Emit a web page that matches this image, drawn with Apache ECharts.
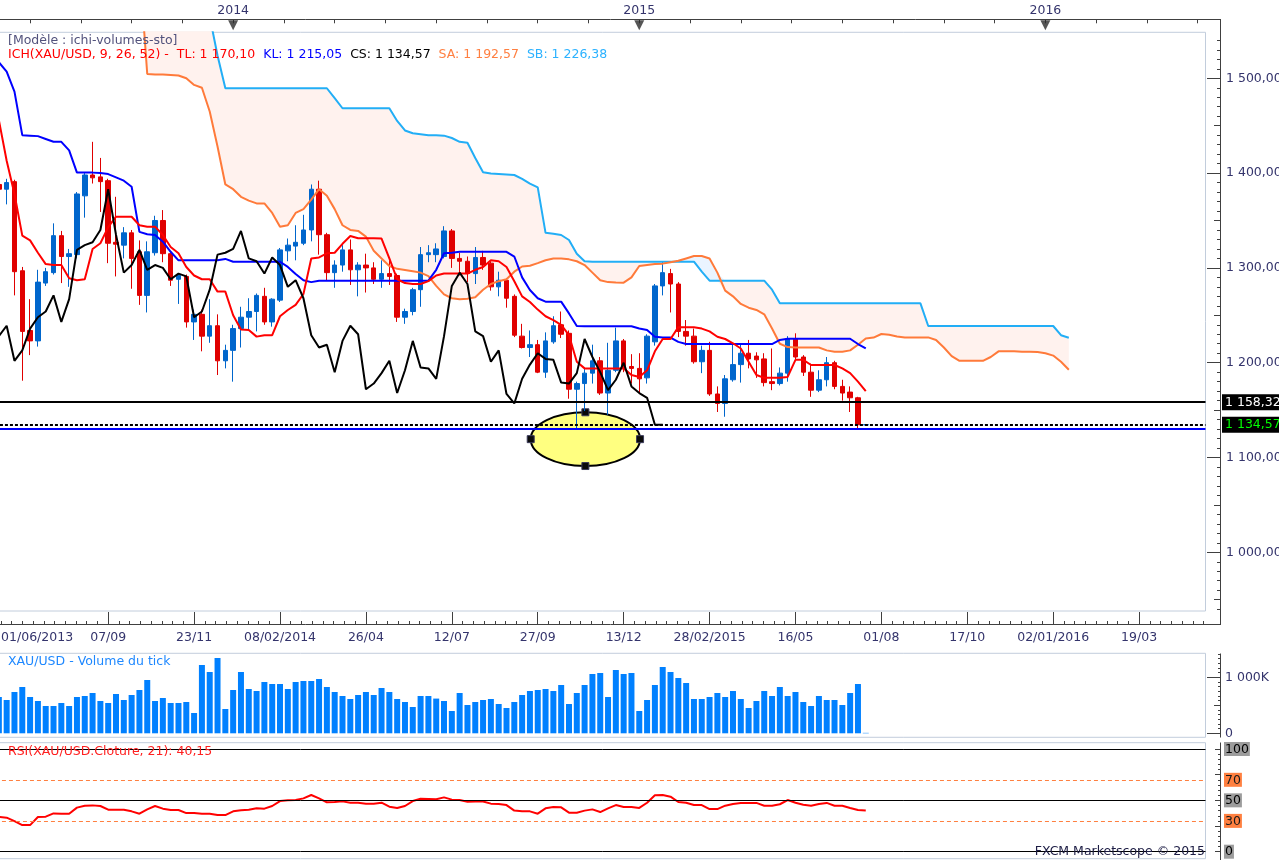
<!DOCTYPE html>
<html>
<head>
<meta charset="utf-8">
<title>XAU/USD Ichimoku</title>
<script src="https://cdn.jsdelivr.net/npm/echarts@6.0.0/dist/echarts.min.js"></script>
<style>
html,body{margin:0;padding:0;background:#ffffff;}
#chart{width:1279px;height:860px;}
</style>
</head>
<body>
<div id="chart"></div>
<script>
// ================= DATA =================
const categories = [
'01/06/2013','08/06/2013','15/06/2013','22/06/2013','29/06/2013','06/07/2013','13/07/2013','20/07/2013','27/07/2013','03/08/2013',
'10/08/2013','17/08/2013','24/08/2013','31/08/2013','07/09/2013','14/09/2013','21/09/2013','28/09/2013','05/10/2013','12/10/2013',
'19/10/2013','26/10/2013','02/11/2013','09/11/2013','16/11/2013','23/11/2013','30/11/2013','07/12/2013','14/12/2013','21/12/2013',
'28/12/2013','04/01/2014','11/01/2014','18/01/2014','25/01/2014','01/02/2014','08/02/2014','15/02/2014','22/02/2014','01/03/2014',
'08/03/2014','15/03/2014','22/03/2014','29/03/2014','05/04/2014','12/04/2014','19/04/2014','26/04/2014','03/05/2014','10/05/2014',
'17/05/2014','24/05/2014','31/05/2014','07/06/2014','14/06/2014','21/06/2014','28/06/2014','05/07/2014','12/07/2014','19/07/2014',
'26/07/2014','02/08/2014','09/08/2014','16/08/2014','23/08/2014','30/08/2014','06/09/2014','13/09/2014','20/09/2014','27/09/2014',
'04/10/2014','11/10/2014','18/10/2014','25/10/2014','01/11/2014','08/11/2014','15/11/2014','22/11/2014','29/11/2014','06/12/2014',
'13/12/2014','20/12/2014','27/12/2014','03/01/2015','10/01/2015','17/01/2015','24/01/2015','31/01/2015','07/02/2015','14/02/2015',
'21/02/2015','28/02/2015','07/03/2015','14/03/2015','21/03/2015','28/03/2015','04/04/2015','11/04/2015','18/04/2015','25/04/2015',
'02/05/2015','09/05/2015','16/05/2015','23/05/2015','30/05/2015','06/06/2015','13/06/2015','20/06/2015','27/06/2015','04/07/2015',
'11/07/2015','18/07/2015','25/07/2015','01/08/2015','08/08/2015','15/08/2015','22/08/2015','29/08/2015','05/09/2015','12/09/2015',
'19/09/2015','26/09/2015','03/10/2015','10/10/2015','17/10/2015','24/10/2015','31/10/2015','07/11/2015','14/11/2015','21/11/2015',
'28/11/2015','05/12/2015','12/12/2015','19/12/2015','26/12/2015','02/01/2016','09/01/2016','16/01/2016','23/01/2016','30/01/2016',
'06/02/2016','13/02/2016','20/02/2016','27/02/2016','05/03/2016','12/03/2016','19/03/2016','26/03/2016','02/04/2016','09/04/2016',
'16/04/2016','23/04/2016','30/04/2016','07/05/2016','14/05/2016'
];

const open = [
1388,1383,1391,1297,1234,1223,1284,1295,1334,1312,
1314,1376,1398,1396,1392,1327,1324,1337,1317,1271,
1316,1350,1315,1288,1291,1243,1251,1228,1239,1202,
1213,1236,1248,1254,1270,1243,1266,1318,1323,1326,
1340,1383,1335,1295,1303,1319,1298,1303,1300,1288,
1294,1292,1248,1254,1277,1314,1314,1312,1339,1310,
1307,1294,1311,1305,1280,1287,1270,1228,1216,1219,
1190,1222,1240,1231,1172,1178,1189,1202,1168,1192,
1223,1196,1194,1184,1222,1281,1294,1283,1233,1228,
1201,1213,1167,1157,1182,1198,1210,1207,1204,1180,
1178,1189,1225,1206,1190,1171,1182,1200,1175,1169,
1163,1134.4];
const close = [
1383,1390,1296,1233,1223,1285,1296,1334,1312,1315,
1378,1398,1395,1391,1326,1325,1337,1310,1271,1317,
1350,1315,1287,1292,1243,1251,1228,1239,1202,1213,
1236,1248,1254,1271,1243,1267,1319,1324,1327,1340,
1383,1335,1295,1303,1319,1298,1303,1300,1288,1294,
1291,1248,1254,1277,1314,1316,1320,1339,1310,1307,
1294,1311,1303,1280,1287,1268,1229,1216,1219,1190,
1223,1239,1230,1172,1178,1189,1202,1168,1192,1223,
1195,1194,1183,1228,1281,1295,1283,1233,1228,1201,
1213,1167,1157,1183,1198,1210,1204,1203,1179,1178,
1189,1225,1206,1190,1171,1182,1200,1175,1168,1163,
1134.57,1134.57];
const low = [
1378,1367,1271,1181,1208,1217,1281,1293,1284,1280,
1310,1353,1389,1359,1305,1291,1310,1278,1261,1253,
1313,1306,1281,1262,1237,1224,1212,1221,1187,1194,
1180,1216,1235,1233,1240,1238,1264,1307,1308,1324,
1328,1314,1287,1279,1296,1282,1270,1274,1283,1279,
1282,1243,1241,1250,1259,1306,1306,1310,1300,1292,
1285,1283,1298,1276,1270,1258,1227,1215,1206,1189,
1184,1220,1226,1162,1131,1149,1178,1166,1145,1190,
1190,1178,1168,1178,1218,1271,1253,1227,1218,1199,
1189,1165,1148,1143,1180,1179,1194,1184,1175,1171,
1176,1180,1203,1186,1164,1169,1175,1172,1160,1148,
1131,1134];
const high = [
1392,1394,1393,1301,1267,1298,1300,1347,1339,1320,
1380,1400,1433,1416,1394,1375,1343,1340,1329,1328,
1355,1361,1318,1294,1293,1256,1256,1267,1251,1219,
1240,1259,1268,1273,1279,1268,1321,1331,1345,1356,
1388,1392,1337,1308,1324,1330,1306,1315,1306,1308,
1311,1294,1257,1279,1322,1324,1326,1344,1341,1316,
1312,1322,1318,1307,1296,1289,1272,1241,1234,1224,
1232,1249,1254,1234,1180,1194,1219,1206,1221,1237,
1225,1209,1210,1230,1283,1307,1299,1285,1245,1236,
1218,1222,1175,1187,1219,1219,1224,1211,1210,1215,
1195,1228,1231,1208,1199,1192,1206,1202,1182,1175,
1164,1135];

// Ichimoku lines
const tenkan = [
1456,1413,1378,1334,1329,1316,1304,1303,1303,1289,
1287,1288,1320,1326,1343,1354,1354,1354,1345,1343.5,
1343.5,1334.7,1322,1315.4,1301,1292,1288,1288,1275,1275,
1250,1235,1234.5,1227.5,1229,1229,1249,1255.6,1261,1272.5,
1310,1311,1315.4,1316,1325.4,1333.7,1331.3,1331.3,1331.3,1331,
1310,1288,1284,1283,1283,1286,1292,1294,1294,1294,
1294,1298,1301,1308,1307,1301,1286,1270,1264,1256,
1249,1245,1240,1229,1201,1194,1194,1194,1194,1194,
1194,1187,1185,1192,1212,1225,1225,1237.5,1237.5,1237.5,
1236,1233,1227.4,1225,1220.5,1215,1201,1187,1184,1184,
1184,1185,1203,1203,1197.6,1197.6,1197.6,1197.6,1194,1189,
1180,1170.10];
const kijun = [
1517,1507,1486,1440,1439.5,1439,1436,1433,1433,1424,
1400.5,1400.5,1400.5,1400,1399,1395.5,1392,1385.6,1338,1335.5,
1334.7,1327.6,1317,1308,1308,1308,1308,1308,1308,1309.5,
1306.5,1306.5,1306.5,1306.5,1306.5,1306.5,1306.5,1301,1293.6,1287,
1285,1286.5,1286.5,1286.5,1286.5,1286.5,1286.5,1286.5,1286.5,1286.5,
1286.5,1286.5,1286.5,1286.5,1286.5,1286.5,1298,1315.4,1316,1317,
1317,1317,1317,1317,1317,1317,1312,1290,1276.7,1268,
1264.4,1264.4,1264.4,1252,1238.7,1238.5,1238.5,1238.5,1238.5,1238.5,
1238.5,1238.5,1236,1234.5,1227.4,1226.7,1226.5,1222,1219.7,1219.7,
1219.7,1219.7,1219.7,1219.7,1219.7,1219.7,1219.7,1219.7,1219.7,1219.7,
1224,1225.3,1225.3,1225.3,1225.3,1225.3,1225.3,1225.3,1225.3,1225.3,
1219.7,1215.05];
// Senkou spans, first value sits at category index 18 (projected 26 weeks ahead)
const senkouStart = 18;
const senkouA = [
1620,1504.5,1504,1504,1503.5,1503,1500,1493,1490,1465,
1428,1388,1383,1375,1371,1368,1368,1358,1343.5,1345,
1358,1362,1372,1383,1376,1362,1345,1340,1339,1333,
1318,1310,1302,1299,1297.8,1296.5,1295,1291.4,1281,1272,
1268,1267,1267.5,1269,1277,1283,1286,1288,1296,1301.5,
1302.3,1305,1308,1310,1310,1309,1307,1303,1295,1287,
1285,1284.5,1284.4,1290,1302,1303,1304,1304.5,1306,1307.5,
1310,1312.5,1312.5,1310,1295,1276,1270,1262,1258,1255.6,
1251,1236,1220,1216.5,1216,1216,1216,1216,1213,1211.6,
1211.6,1213,1219,1225.5,1226.5,1230.3,1229.5,1227.7,1226.7,1226.7,
1226.7,1226.7,1224,1216,1207,1202,1202,1202,1202,1206,
1212,1212,1212,1211.5,1211.5,1211.3,1210,1207.5,1201,1192.57];
const senkouB = [
1650,1650,1650,1650,1650,1650,1650,1650,1650,1565,
1524,1489.5,1489.5,1489.5,1489.5,1489.5,1489.5,1489.5,1489.5,1489.5,
1489.5,1489.5,1489.5,1489.5,1489.5,1479,1468.4,1468.4,1468.4,1468.4,
1468.4,1468.4,1468.4,1455,1445,1442,1441,1440,1440,1439.5,
1437,1433,1432,1416,1401,1399.5,1399,1398.5,1398,1394,
1389,1385,1337,1336,1334.7,1329.4,1315,1307,1306.5,1306.5,
1306.5,1306.5,1306.5,1306.5,1306.5,1306.5,1306.5,1306.5,1306.5,1306.5,
1306.5,1306.5,1296,1286.5,1286.5,1286.5,1286.5,1286.5,1286.5,1286.5,
1286.5,1277,1262.6,1262.6,1262.6,1262.6,1262.6,1262.6,1262.6,1262.6,
1262.6,1262.6,1262.6,1262.6,1262.6,1262.6,1262.6,1262.6,1262.6,1262.6,
1262.6,1238.7,1238.7,1238.7,1238.7,1238.7,1238.7,1238.7,1238.7,1238.7,
1238.7,1238.7,1238.7,1238.7,1238.7,1238.7,1238.7,1238.7,1229,1226.38];
const chikouShift = 26;

// Tick volume (thousands)
const volume = [
648,595,738,827,648,577,488,488,541,488,
648,666,720,577,541,702,595,684,773,952,
577,630,541,541,559,363,1220,1095,1345,434,
773,1095,791,755,916,880,880,791,916,934,
934,970,827,738,666,613,684,738,684,809,
738,613,559,470,666,666,620,577,398,720,
505,559,595,613,523,452,559,684,755,773,
791,755,863,523,720,863,1059,1077,648,1130,
1059,1077,398,595,863,1184,1095,988,898,613,
613,648,720,648,755,613,452,577,755,666,
827,666,738,559,488,666,595,595,505,720,
880,8];

// RSI(21)
const rsi = [
33.8,33.1,29.8,25.9,25.9,33.8,34.1,37.3,37.0,37.0,
42.9,44.8,45.1,44.5,40.9,40.9,40.9,39.3,37.0,41.2,
44.5,41.9,40.6,40.6,37.6,37.6,37.0,37.0,35.7,35.7,
39.3,40.3,40.9,42.2,41.9,44.5,49.3,50.0,50.3,51.9,
55.2,51.9,48.1,48.4,49.0,47.7,47.7,46.8,46.8,47.7,
43.8,42.5,44.5,49.3,51.6,51.3,51.0,52.9,50.7,50.3,
48.7,48.9,48.9,46.8,46.5,45.4,40.0,39.3,39.3,37.0,
42.2,43.5,43.2,38.0,38.0,40.0,41.2,38.6,42.2,45.4,
43.5,43.5,42.6,47.7,54.9,55.2,53.6,48.4,47.7,45.4,
45.4,41.5,41.5,44.8,46.5,47.5,47.5,47.5,44.8,44.8,
46.2,50.3,47.7,45.7,44.8,46.5,47.5,44.8,44.8,42.6,
40.6,40.15];
const rsiLevels = [100, 70, 50, 30, 0];

// Horizontal lines
const hLineBlack = 1158.32;
const hLineBlue = 1130.40;

// Ellipse annotation (category index / price)
const ellipseBox = [68.1, 82.1, 1147.7, 1091.0];

// Tick labels
const dateTickIdx = [0,14,25,36,47,58,69,80,91,102,113,124,135,146];
const dateTickText = ['01/06/2013','07/09','23/11','08/02/2014','26/04','12/07','27/09','13/12','28/02/2015','16/05','01/08','17/10','02/01/2016','19/03'];
const yearIdx = [30,82,134];
const yearText = ['2014','2015','2016'];
const priceTicks = [1000,1100,1200,1300,1400,1500];
const volTicks = [0,1000];
const rsiTicks = [0,30,50,70,100];

// ================= LAYOUT HELPERS =================
const FONT = 'DejaVu Sans';
const FS = 12.5;
const NAVY = '#34346C';
const N = categories.length;
const GL = -5.055;      // grid left
const GR = 73.5;        // grid right (1279-1205.5)
const PMIN = 938.08, PMAX = 1548.52;
const VMIN = -71.4, VMAX = 1428.6;
const RMIN = -6.82, RMAX = 106.13;

function fmt(v){
  const s = v.toFixed(2).split('.');
  return s[0].replace(/\B(?=(\d{3})+(?!\d))/g, ' ') + ',' + s[1];
}

// derived series
const ohlc = open.map((o,i)=>[o, close[i], low[i], high[i]]);
const chikou = close.slice(chikouShift);
const pad = new Array(senkouStart).fill(null);
const saFull = pad.concat(senkouA);
const sbFull = pad.concat(senkouB);
const cloudBase = saFull.map((a,i)=> a==null ? null : Math.min(a, sbFull[i]));
const cloudPink = saFull.map((a,i)=> a==null ? null : Math.max(sbFull[i]-a, 0));
const cloudBlue = saFull.map((a,i)=> a==null ? null : Math.max(a-sbFull[i], 0));

// tick positions (layout only)
const topTicks = []; for (let v = yearIdx[0] - 6.5*4; v <= N-0.5; v += 6.5) topTicks.push(v);
const bottomMinor = []; for (let v = dateTickIdx[1] - 1.375*10; v <= N-0.5; v += 1.375) bottomMinor.push(+v.toFixed(4));
const priceMinor = []; for (let p = 940; p <= 1540; p += 10) if (p % 50 !== 0) priceMinor.push(p);
const priceMid = []; for (let p = 950; p <= 1550; p += 100) priceMid.push(p);
const volMinor = []; for (let k = 1; k <= 17; k++) if (k !== 6 && k !== 12) volMinor.push(k*1000/12);
const rsiMinor = []; for (let r = 5; r < 105; r += 5) if (r % 25 !== 0) rsiMinor.push(r);
const dateLabelPos = dateTickIdx.map((v,k)=> k === 0 ? 4.9 : v);

const tickLine = {color:'#404040', width:1};
function hiddenCat(g){
  return {type:'category', gridIndex:g, data:categories, boundaryGap:true, show:false, axisLine:{onZero:false}};
}
function valX(pos, extra){
  return Object.assign({type:'value', gridIndex:0, position:pos, offset:13, min:-0.5, max:N-0.5,
    splitLine:{show:false}, axisLine:{show:false, onZero:false}}, extra);
}
function valY(g, mn, mx, extra){
  return Object.assign({type:'value', gridIndex:g, position:'right', offset:15.5, min:mn, max:mx,
    splitLine:{show:false}, axisLine:{show:false, onZero:false}}, extra);
}
const noLabel = {show:false};

const chart = echarts.init(document.getElementById('chart'), null, {renderer:'canvas', width:1279, height:860});

const option = {
  animation: false,
  backgroundColor: '#ffffff',
  textStyle: {fontFamily: FONT},
  title: [
    {left: 8, top: 34.5, padding: 0, text: '[Modèle : ichi-volumes-sto]',
      textStyle:{fontFamily:FONT, fontSize:FS, fontWeight:'normal', color:'#52527C'}},
    {left: 8, top: 48.5, padding: 0,
      text: '{r|ICH(XAU/USD, 9, 26, 52) -  TL: ' + fmt(tenkan[tenkan.length-1]) + '}  {b|KL: ' + fmt(kijun[kijun.length-1]) +
            '}  {k|CS: ' + fmt(close[close.length-1]) + '}  {o|SA: ' + fmt(senkouA[senkouA.length-1]) +
            '}  {c|SB: ' + fmt(senkouB[senkouB.length-1]) + '}',
      textStyle:{fontFamily:FONT, fontSize:FS, fontWeight:'normal', color:'#000',
        rich:{
          r:{color:'#FF0000', fontFamily:FONT, fontSize:FS},
          b:{color:'#0000FF', fontFamily:FONT, fontSize:FS},
          k:{color:'#000000', fontFamily:FONT, fontSize:FS},
          o:{color:'#FF7F40', fontFamily:FONT, fontSize:FS},
          c:{color:'#2CB2FF', fontFamily:FONT, fontSize:FS}
        }}},
    {left: 8, top: 655.5, padding: 0, text: 'XAU/USD - Volume du tick',
      textStyle:{fontFamily:FONT, fontSize:FS, fontWeight:'normal', color:'#1E88FF'}},
    {left: 8, top: 745, padding: 0, text: 'RSI(XAU/USD.Cloture, 21): ' + rsi[rsi.length-1].toFixed(2).replace('.', ','),
      textStyle:{fontFamily:FONT, fontSize:FS, fontWeight:'normal', color:'#FF2020'}},
    {right: 74, top: 845, padding: 0, text: 'FXCM Marketscope © 2015',
      textStyle:{fontFamily:FONT, fontSize:FS, fontWeight:'normal', color:'#1C1C44'}}
  ],
  grid: [
    {left:GL, right:GR, top:32.3, height:578.7, show:true, borderColor:'#C2CDDC', borderWidth:1, backgroundColor:'transparent', containLabel:false, outerBoundsMode:'none'},
    {left:GL, right:GR, top:653.3, height:84, show:true, borderColor:'#C2CDDC', borderWidth:1, backgroundColor:'transparent', containLabel:false, outerBoundsMode:'none'},
    {left:GL, right:GR, top:742.7, height:116, show:true, borderColor:'#C2CDDC', borderWidth:1, backgroundColor:'transparent', containLabel:false, outerBoundsMode:'none'}
  ],
  xAxis: [
    hiddenCat(0),
    valX('top', {
      axisTick:{show:true, inside:true, length:4, customValues: topTicks, lineStyle:tickLine},
      axisLabel:{show:true, customValues: yearIdx, hideOverlap:false, margin:2, color:NAVY, fontFamily:FONT, fontSize:FS,
        formatter: v => yearText[yearIdx.indexOf(v)] || ''}
    }),
    valX('bottom', {
      axisTick:{show:true, inside:true, length:12, customValues: dateTickIdx, lineStyle:tickLine},
      axisLabel:{show:true, customValues: dateLabelPos, hideOverlap:false, margin:7.5, color:NAVY, fontFamily:FONT, fontSize:FS,
        formatter: v => { const k = dateLabelPos.indexOf(v); return k >= 0 ? dateTickText[k] : ''; }}
    }),
    valX('bottom', {
      axisTick:{show:true, inside:true, length:3, customValues: bottomMinor, lineStyle:tickLine},
      axisLabel: noLabel
    }),
    hiddenCat(1),
    hiddenCat(2)
  ],
  yAxis: [
    valY(0, PMIN, PMAX, {
      axisTick:{show:true, inside:true, length:14, customValues: priceTicks, lineStyle:tickLine},
      axisLabel:{show:true, customValues: priceTicks, hideOverlap:false, margin:5, color:NAVY, fontFamily:FONT, fontSize:FS, formatter: v => fmt(v)}
    }),
    valY(0, PMIN, PMAX, {axisTick:{show:true, inside:true, length:4, customValues: priceMinor, lineStyle:tickLine}, axisLabel:noLabel}),
    valY(0, PMIN, PMAX, {axisTick:{show:true, inside:true, length:7, customValues: priceMid, lineStyle:tickLine}, axisLabel:noLabel}),
    valY(0, PMIN, PMAX, {
      axisTick:{show:false},
      axisLabel:{show:true, customValues:[hLineBlue, close[close.length-1], hLineBlack], hideOverlap:false, margin:1,
        fontFamily:FONT, fontSize:FS,
        formatter: v => {
          if (v === hLineBlack) return '{k|' + fmt(v) + '}';
          if (v === hLineBlue) return '{b|' + fmt(v) + '}';
          return '{g|' + fmt(v) + '}';
        },
        rich:{
          k:{backgroundColor:'#000000', color:'#FFFFFF', padding:[2,8,1,3], fontFamily:FONT, fontSize:FS},
          g:{backgroundColor:'#000000', color:'#00FF00', padding:[2,8,1,3], fontFamily:FONT, fontSize:FS},
          b:{backgroundColor:'#0000FF', color:'#FFFF00', padding:[2,8,1,3], fontFamily:FONT, fontSize:FS}
        }}
    }),
    valY(1, VMIN, VMAX, {
      axisTick:{show:true, inside:true, length:14, customValues: volTicks, lineStyle:tickLine},
      axisLabel:{show:true, customValues: volTicks, hideOverlap:false, margin:4, color:NAVY, fontFamily:FONT, fontSize:FS,
        formatter: v => v === 0 ? '0' : (v/1000).toFixed(0) + ' 000K'}
    }),
    valY(1, VMIN, VMAX, {axisTick:{show:true, inside:true, length:3, customValues: volMinor, lineStyle:tickLine}, axisLabel:noLabel}),
    valY(1, VMIN, VMAX, {axisTick:{show:true, inside:true, length:7, customValues:[500], lineStyle:tickLine}, axisLabel:noLabel}),
    valY(2, RMIN, RMAX, {
      axisTick:{show:true, inside:true, length:6, customValues:[0,25,50,75,100], lineStyle:tickLine},
      axisLabel:{show:true, customValues: rsiTicks, hideOverlap:false, margin:3, fontFamily:FONT, fontSize:FS,
        formatter: v => (v === 30 || v === 70) ? '{o|' + v + '}' : '{g|' + v + '}',
        rich:{
          g:{backgroundColor:'#9C9C9C', color:'#000000', padding:[1,1,0,1], fontFamily:FONT, fontSize:FS},
          o:{backgroundColor:'#FF8040', color:'#1A1A1A', padding:[1,1,0,1], fontFamily:FONT, fontSize:FS}
        }}
    }),
    valY(2, RMIN, RMAX, {axisTick:{show:true, inside:true, length:3, customValues: rsiMinor, lineStyle:tickLine}, axisLabel:noLabel})
  ],
  series: [
    {
      type:'custom', name:'annotation', xAxisIndex:1, yAxisIndex:0, z:1, silent:true, clip:false,
      data:[ellipseBox],
      renderItem: function(params, api){
        const p0 = api.coord([api.value(0), api.value(2)]);
        const p1 = api.coord([api.value(1), api.value(3)]);
        const cx = (p0[0]+p1[0])/2, cy = (p0[1]+p1[1])/2;
        const rx = Math.abs(p1[0]-p0[0])/2, ry = Math.abs(p1[1]-p0[1])/2;
        const h = 3.5;
        const handle = (x,y) => ({type:'rect', shape:{x:x-h, y:y-h, width:2*h, height:2*h},
          style:{fill:'#0A0A0A', stroke:'#3A3A5A', lineWidth:1}});
        return {type:'group', children:[
          {type:'ellipse', shape:{cx:cx, cy:cy, rx:rx, ry:ry}, style:{fill:'#FFFF80', stroke:'#000000', lineWidth:2}},
          handle(cx-rx, cy), handle(cx+rx, cy), handle(cx, cy-ry), handle(cx, cy+ry)
        ]};
      }
    },
    {type:'line', name:'kumoBase', xAxisIndex:0, yAxisIndex:0, data:cloudBase, stack:'kumo', symbol:'none', silent:true, z:1,
      lineStyle:{opacity:0}},
    {type:'line', name:'kumoPink', xAxisIndex:0, yAxisIndex:0, data:cloudPink, stack:'kumo', symbol:'none', silent:true, z:1,
      lineStyle:{opacity:0}, areaStyle:{color:'#FFF2EE', opacity:1}},
    {type:'line', name:'kumoBlue', xAxisIndex:0, yAxisIndex:0, data:cloudBlue, stack:'kumo', symbol:'none', silent:true, z:1,
      lineStyle:{opacity:0}, areaStyle:{color:'#EAF4FF', opacity:1}},
    {
      type:'candlestick', name:'XAU/USD', xAxisIndex:0, yAxisIndex:0, data:ohlc, barWidth:5, silent:true,
      itemStyle:{color:'#0066CC', color0:'#E00000', borderColor:'#0066CC', borderColor0:'#E00000', borderWidth:1},
      markLine:{
        silent:true, symbol:['none','none'], label:{show:false}, animation:false,
        data:[
          {yAxis:hLineBlack, lineStyle:{color:'#000000', width:2, type:'solid'}},
          {yAxis:hLineBlue, lineStyle:{color:'#0000FF', width:2, type:'solid'}},
          {yAxis:close[close.length-1], lineStyle:{color:'#000000', width:2, type:[3,2]}}
        ]
      }
    },
    {type:'line', name:'SB', xAxisIndex:0, yAxisIndex:0, data:sbFull, symbol:'none', silent:true,
      lineStyle:{color:'#22AEF6', width:2}},
    {type:'line', name:'SA', xAxisIndex:0, yAxisIndex:0, data:saFull, symbol:'none', silent:true,
      lineStyle:{color:'#FF7A3A', width:2}},
    {type:'line', name:'KL', xAxisIndex:0, yAxisIndex:0, data:kijun, symbol:'none', silent:true,
      lineStyle:{color:'#0000FF', width:2}},
    {type:'line', name:'TL', xAxisIndex:0, yAxisIndex:0, data:tenkan, symbol:'none', silent:true,
      lineStyle:{color:'#FF0000', width:2}},
    {type:'line', name:'CS', xAxisIndex:0, yAxisIndex:0, data:chikou, symbol:'none', silent:true,
      lineStyle:{color:'#000000', width:2}},
    {type:'scatter', name:'yearMarks', xAxisIndex:1, yAxisIndex:0, clip:false, silent:true,
      data: yearIdx.map(v => [v, 1556.0]), symbol:'triangle', symbolRotate:180, symbolSize:[10,10],
      itemStyle:{color:'#2A2A2A'}},
    {type:'bar', name:'Volume', xAxisIndex:4, yAxisIndex:4, data:volume, barWidth:6, silent:true,
      itemStyle:{color:'#0080FF'}},
    {type:'line', name:'RSI', xAxisIndex:5, yAxisIndex:7, data:rsi, symbol:'none', silent:true, z:3,
      lineStyle:{color:'#FF0000', width:2},
      markLine:{silent:true, symbol:['none','none'], label:{show:false}, animation:false,
        data: rsiLevels.map(l => ({yAxis:l, lineStyle:(l===70||l===30)
          ? {color:'#FF8040', width:1, type:[4,3]} : {color:'#000000', width:1, type:'solid'}}))}}
  ],
  graphic: [
    {type:'line', silent:true, shape:{x1:0, y1:19.5, x2:1221, y2:19.5}, style:{stroke:'#404040', lineWidth:1}},
    {type:'line', silent:true, shape:{x1:1220.5, y1:19.5, x2:1220.5, y2:624.5}, style:{stroke:'#404040', lineWidth:1}},
    {type:'line', silent:true, shape:{x1:0, y1:624.5, x2:1221, y2:624.5}, style:{stroke:'#404040', lineWidth:1}},
    {type:'line', silent:true, shape:{x1:1220.5, y1:653.5, x2:1220.5, y2:737.5}, style:{stroke:'#404040', lineWidth:1}},
    {type:'line', silent:true, shape:{x1:1220.5, y1:742.5, x2:1220.5, y2:860}, style:{stroke:'#404040', lineWidth:1}}
  ]
};
chart.setOption(option);
</script>
</body>
</html>
